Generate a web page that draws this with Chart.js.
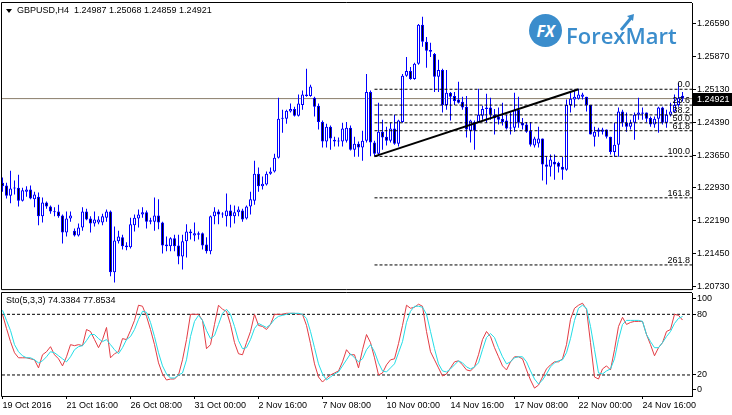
<!DOCTYPE html>
<html>
<head>
<meta charset="utf-8">
<script src="https://cdn.jsdelivr.net/npm/chart.js"></script>
<style>
  html, body { margin: 0; padding: 0; background: #fff; }
  #wrap { position: relative; width: 732px; height: 415px; overflow: hidden; font-family: "Liberation Sans", Arial, sans-serif; }
  #mainBox { position: absolute; left: 0; top: 0; width: 732px; height: 291px; }
  #stoBox { position: absolute; left: 0; top: 291px; width: 732px; height: 124px; }
  .lbl { position: absolute; font-size: 9px; line-height: 11px; color: #000; white-space: pre; }
  .tri { position: absolute; left: 6px; top: 9px; width: 0; height: 0; border-left: 3px solid transparent; border-right: 3px solid transparent; border-top: 4px solid #000; }
  .logo-c { position: absolute; left: 529px; top: 14px; width: 33px; height: 33px; border-radius: 50%; background: #3b8dcc; color: #fff; font: italic bold 16px "Open Sans", sans-serif; display: flex; align-items: center; justify-content: center; }
  .logo-t { position: absolute; left: 566px; top: 20px; font: 600 22px/30px "Open Sans", sans-serif; color: #3b8dcc; }
  .logo-a { position: absolute; left: 618px; top: 12px; }
</style>
</head>
<body>
<div id="wrap">
  <div id="mainBox"><canvas id="mainChart" width="732" height="291"></canvas></div>
  <div id="stoBox"><canvas id="stoChart" width="732" height="124"></canvas></div>
  <div class="tri"></div>
  <div class="lbl" id="head" style="left:17px;top:5px"></div>
  <div class="lbl" id="stoHead" style="left:6px;top:295px"></div>
  <div class="logo-c">FX</div>
  <div class="logo-t">ForexMart</div>
  <svg class="logo-a" width="18" height="20"><path d="M3 18 L13 6" stroke="#3b8dcc" stroke-width="3"/><path d="M9 4 L16 2 L15 9 Z" fill="#3b8dcc"/></svg>
</div>
<script>
/* ── Colours ── */
const BAR_COLOR = "#0000ff";
const BULL_FILL = "#ffffff";
const BEAR_FILL = "#000000";
const K_COLOR = "#e23c44";
const D_COLOR = "#22dde6";
const BID_COLOR = "#8b7d6b";
const FONT = "'Liberation Sans', Arial, sans-serif";

/* ── GBPUSD H4 candles (bar 0 = 19 Oct 2016 00:00) ── */
const OPEN = [
  1.2304, 1.2298, 1.2275, 1.2291, 1.2293, 1.2264, 1.2284, 1.2289, 1.2267, 1.2273,
  1.2229, 1.2260, 1.2251, 1.2240, 1.2240, 1.2231, 1.2193, 1.2224, 1.2197, 1.2186,
  1.2204, 1.2240, 1.2224, 1.2213, 1.2215, 1.2215, 1.2226, 1.2240, 1.2104, 1.2173,
  1.2182, 1.2164, 1.2160, 1.2209, 1.2224, 1.2233, 1.2238, 1.2220, 1.2217, 1.2231,
  1.2215, 1.2166, 1.2162, 1.2180, 1.2164, 1.2139, 1.2173, 1.2195, 1.2186, 1.2191,
  1.2191, 1.2166, 1.2151, 1.2229, 1.2240, 1.2233, 1.2229, 1.2242, 1.2229, 1.2238,
  1.2242, 1.2224, 1.2251, 1.2264, 1.2324, 1.2296, 1.2300, 1.2324, 1.2329, 1.2360,
  1.2447, 1.2447, 1.2463, 1.2469, 1.2454, 1.2478, 1.2498, 1.2498, 1.2494, 1.2476,
  1.2440, 1.2396, 1.2429, 1.2400, 1.2396, 1.2396, 1.2398, 1.2427, 1.2378, 1.2391,
  1.2383, 1.2398, 1.2507, 1.2394, 1.2369, 1.2418, 1.2407, 1.2398, 1.2425, 1.2391,
  1.2440, 1.2543, 1.2554, 1.2536, 1.2570, 1.2657, 1.2619, 1.2601, 1.2592, 1.2541,
  1.2556, 1.2478, 1.2505, 1.2498, 1.2490, 1.2485, 1.2474, 1.2420, 1.2440, 1.2440,
  1.2454, 1.2469, 1.2472, 1.2456, 1.2452, 1.2447, 1.2443, 1.2427, 1.2427, 1.2467,
  1.2438, 1.2434, 1.2420, 1.2387, 1.2392, 1.2403, 1.2345, 1.2340, 1.2351, 1.2349,
  1.2340, 1.2333, 1.2478, 1.2490, 1.2492, 1.2496, 1.2496, 1.2478, 1.2407, 1.2423,
  1.2418, 1.2423, 1.2407, 1.2373, 1.2389, 1.2463, 1.2438, 1.2429, 1.2438, 1.2456,
  1.2461, 1.2461, 1.2449, 1.2434, 1.2447, 1.2472, 1.2438, 1.2456, 1.2463, 1.2478,
  1.24987,
];
const HIGH = [
  1.2316, 1.2304, 1.2331, 1.2309, 1.2322, 1.2293, 1.2296, 1.2298, 1.2284, 1.2282,
  1.2271, 1.2262, 1.2253, 1.2249, 1.2255, 1.2233, 1.2240, 1.2240, 1.2202, 1.2213,
  1.2249, 1.2246, 1.2229, 1.2240, 1.2229, 1.2235, 1.2244, 1.2242, 1.2206, 1.2197,
  1.2188, 1.2171, 1.2226, 1.2233, 1.2244, 1.2249, 1.2242, 1.2226, 1.2271, 1.2267,
  1.2217, 1.2184, 1.2182, 1.2188, 1.2188, 1.2188, 1.2211, 1.2200, 1.2215, 1.2195,
  1.2193, 1.2182, 1.2231, 1.2249, 1.2244, 1.2238, 1.2280, 1.2255, 1.2253, 1.2251,
  1.2246, 1.2253, 1.2284, 1.2353, 1.2338, 1.2318, 1.2329, 1.2338, 1.2369, 1.2494,
  1.2467, 1.2467, 1.2481, 1.2474, 1.2501, 1.2510, 1.2559, 1.2523, 1.2496, 1.2481,
  1.2443, 1.2436, 1.2432, 1.2407, 1.2405, 1.2438, 1.2440, 1.2432, 1.2407, 1.2396,
  1.2420, 1.2547, 1.2510, 1.2398, 1.2483, 1.2445, 1.2429, 1.2438, 1.2456, 1.2445,
  1.2547, 1.2585, 1.2563, 1.2572, 1.2659, 1.2675, 1.2630, 1.2617, 1.2594, 1.2579,
  1.2559, 1.2556, 1.2507, 1.2507, 1.2530, 1.2496, 1.2498, 1.2445, 1.2443, 1.2514,
  1.2476, 1.2503, 1.2494, 1.2469, 1.2472, 1.2483, 1.2456, 1.2461, 1.2505, 1.2496,
  1.2449, 1.2440, 1.2440, 1.2407, 1.2429, 1.2403, 1.2362, 1.2367, 1.2367, 1.2351,
  1.2362, 1.2490, 1.2507, 1.2512, 1.2514, 1.2505, 1.2496, 1.2478, 1.2429, 1.2427,
  1.2427, 1.2423, 1.2407, 1.2438, 1.2472, 1.2467, 1.2461, 1.2445, 1.2461, 1.2494,
  1.2472, 1.2461, 1.2452, 1.2452, 1.2474, 1.2474, 1.2467, 1.2483, 1.2501, 1.2527,
  1.25068,
];
const LOW = [
  1.2284, 1.2269, 1.2258, 1.2278, 1.2251, 1.2262, 1.2273, 1.2267, 1.2249, 1.2209,
  1.2215, 1.2246, 1.2235, 1.2229, 1.2226, 1.2168, 1.2184, 1.2217, 1.2184, 1.2184,
  1.2197, 1.2220, 1.2193, 1.2206, 1.2211, 1.2209, 1.2217, 1.2095, 1.2081, 1.2168,
  1.2155, 1.2153, 1.2157, 1.2195, 1.2204, 1.2226, 1.2202, 1.2211, 1.2197, 1.2200,
  1.2146, 1.2151, 1.2151, 1.2151, 1.2122, 1.2110, 1.2137, 1.2177, 1.2173, 1.2177,
  1.2155, 1.2146, 1.2144, 1.2211, 1.2211, 1.2226, 1.2206, 1.2204, 1.2213, 1.2229,
  1.2217, 1.2222, 1.2233, 1.2255, 1.2284, 1.2289, 1.2298, 1.2322, 1.2327, 1.2358,
  1.2416, 1.2436, 1.2461, 1.2452, 1.2452, 1.2467, 1.2496, 1.2496, 1.2452, 1.2423,
  1.2383, 1.2383, 1.2378, 1.2385, 1.2385, 1.2385, 1.2394, 1.2376, 1.2362, 1.2362,
  1.2353, 1.2394, 1.2363, 1.2363, 1.2363, 1.2378, 1.2387, 1.2394, 1.2389, 1.2385,
  1.2438, 1.2541, 1.2534, 1.2534, 1.2568, 1.2608, 1.2561, 1.2585, 1.2507, 1.2507,
  1.2461, 1.2467, 1.2443, 1.2478, 1.2481, 1.2467, 1.2405, 1.2394, 1.2378, 1.2438,
  1.2445, 1.2438, 1.2445, 1.2412, 1.2434, 1.2432, 1.2423, 1.2412, 1.2418, 1.2427,
  1.2423, 1.2416, 1.2385, 1.2383, 1.2383, 1.2309, 1.2300, 1.2318, 1.2311, 1.2327,
  1.2311, 1.2331, 1.2461, 1.2472, 1.2490, 1.2490, 1.2463, 1.2412, 1.2385, 1.2407,
  1.2412, 1.2403, 1.2367, 1.2362, 1.2362, 1.2429, 1.2418, 1.2423, 1.2400, 1.2445,
  1.2445, 1.2440, 1.2429, 1.2427, 1.2416, 1.2434, 1.2427, 1.2452, 1.2461, 1.2474,
  1.24859,
];
const CLOSE = [
  1.2296, 1.2275, 1.2291, 1.2293, 1.2264, 1.2287, 1.2289, 1.2269, 1.2278, 1.2229,
  1.2260, 1.2251, 1.2240, 1.2238, 1.2229, 1.2193, 1.2224, 1.2231, 1.2186, 1.2204,
  1.2240, 1.2222, 1.2213, 1.2222, 1.2222, 1.2229, 1.2240, 1.2104, 1.2175, 1.2184,
  1.2162, 1.2160, 1.2211, 1.2226, 1.2233, 1.2238, 1.2217, 1.2217, 1.2231, 1.2215,
  1.2164, 1.2162, 1.2180, 1.2162, 1.2139, 1.2173, 1.2195, 1.2191, 1.2191, 1.2188,
  1.2164, 1.2151, 1.2229, 1.2240, 1.2233, 1.2235, 1.2242, 1.2229, 1.2238, 1.2244,
  1.2222, 1.2251, 1.2267, 1.2324, 1.2296, 1.2302, 1.2324, 1.2329, 1.2360, 1.2447,
  1.2449, 1.2465, 1.2469, 1.2454, 1.2481, 1.2501, 1.2501, 1.2519, 1.2474, 1.2440,
  1.2396, 1.2429, 1.2403, 1.2396, 1.2398, 1.2425, 1.2427, 1.2378, 1.2391, 1.2383,
  1.2398, 1.2507, 1.2394, 1.2369, 1.2418, 1.2405, 1.2398, 1.2425, 1.2391, 1.2443,
  1.2543, 1.2554, 1.2536, 1.2570, 1.2657, 1.2619, 1.2599, 1.2597, 1.2541, 1.2556,
  1.2478, 1.2505, 1.2496, 1.2487, 1.2483, 1.2472, 1.2423, 1.2443, 1.2420, 1.2456,
  1.2469, 1.2472, 1.2456, 1.2449, 1.2445, 1.2440, 1.2425, 1.2425, 1.2467, 1.2438,
  1.2432, 1.2418, 1.2389, 1.2403, 1.2403, 1.2345, 1.2340, 1.2356, 1.2345, 1.2340,
  1.2333, 1.2478, 1.2492, 1.2496, 1.2501, 1.2501, 1.2478, 1.2412, 1.2418, 1.2418,
  1.2423, 1.2407, 1.2373, 1.2389, 1.2463, 1.2438, 1.2429, 1.2438, 1.2456, 1.2461,
  1.2458, 1.2447, 1.2434, 1.2447, 1.2472, 1.2438, 1.2456, 1.2463, 1.2478, 1.2494,
  1.24921,
];

/* ── Stochastic (5,3,3) ── */
const STO_K = [
  80, 66, 53, 42, 37, 37, 37, 36, 35, 27, 40, 43, 48, 40, 36, 29, 38, 50, 49, 50,
  49, 65, 63, 55, 47, 55, 67, 37, 41, 43, 56, 55, 64, 74, 89, 88, 78, 65, 50, 32,
  21, 15, 16, 16, 20, 35, 55, 80, 80, 80, 74, 46, 50, 70, 89, 85, 83, 70, 52, 41,
  40, 52, 63, 80, 69, 68, 65, 70, 80, 80, 80, 81, 81, 81, 80, 80, 69, 51, 31, 18,
  13, 17, 20, 22, 24, 33, 45, 40, 40, 27, 45, 60, 52, 37, 20, 22, 30, 35, 36, 51,
  69, 89, 86, 87, 90, 88, 63, 43, 35, 27, 19, 21, 27, 33, 34, 30, 25, 24, 28, 40,
  55, 63, 58, 47, 38, 29, 25, 33, 38, 38, 36, 25, 15, 7, 10, 18, 26, 30, 33, 33,
  36, 50, 75, 86, 89, 91, 85, 52, 18, 16, 26, 29, 25, 45, 68, 77, 70, 72, 73, 73,
  73, 60, 50, 39, 47, 52, 63, 65, 80, 79, 74.3384,
];
const STO_D = [
  84, 74, 64, 50, 43, 39, 37, 37, 35, 32, 34, 38, 43, 42, 39, 36, 33, 38, 45, 48,
  49, 54, 60, 60, 56, 53, 55, 50, 45, 41, 47, 55, 58, 65, 75, 83, 82, 72, 58, 42,
  29, 21, 17, 17, 20, 22, 35, 58, 73, 79, 74, 64, 56, 59, 70, 81, 85, 80, 68, 54,
  46, 47, 55, 66, 71, 69, 67, 70, 75, 78, 79, 80, 81, 81, 81, 80, 76, 63, 47, 31,
  21, 15, 18, 21, 23, 29, 35, 41, 37, 33, 36, 45, 50, 43, 32, 24, 23, 27, 31, 42,
  53, 72, 83, 88, 88, 87, 80, 63, 46, 31, 24, 23, 26, 30, 34, 32, 28, 26, 28, 32,
  45, 57, 61, 57, 47, 38, 31, 33, 37, 38, 38, 33, 24, 16, 11, 15, 21, 28, 32, 34,
  35, 42, 56, 74, 86, 89, 86, 68, 45, 22, 21, 24, 26, 36, 55, 70, 74, 74, 74, 74,
  73, 60, 53, 47, 47, 52, 58, 63, 71, 76, 77.8534,
];
const STO_LEVELS = [20, 80];
const STO_TICK_POS = [6.1, 20, 80, 95.2];
const STO_TICK_TEXT = ["0", "20", "80", "100"];

/* ── Axes ── */
const TIME_TICK_BARS = [0, 16, 32, 48, 64, 80, 96, 112, 128, 144, 160];
const TIME_LABELS = [
  "19 Oct 2016", "21 Oct 16:00", "26 Oct 08:00", "31 Oct 00:00", "2 Nov 16:00",
  "7 Nov 08:00", "10 Nov 00:00", "14 Nov 16:00", "17 Nov 08:00", "22 Nov 00:00", "24 Nov 16:00",
];
const PRICE_TICKS = [1.2073, 1.2145, 1.2219, 1.2293, 1.2365, 1.2439, 1.2513, 1.2587, 1.2659];
const X_MIN = -0.125;
const X_MAX = 172.375;
const PRICE_MIN = 1.20663;
const PRICE_MAX = 1.27058;

/* ── Fibonacci retracement ── */
const FIB_LOW = 1.2363;
const FIB_HIGH = 1.2513;
const FIB_FROM_BAR = 93;
const FIB_TO_BAR = 144;
const FIB_RATIOS = [0, 0.236, 0.382, 0.5, 0.618, 1, 1.618, 2.618];
const FIB_NAMES = ["0.0", "23.6", "38.2", "50.0", "61.8", "100.0", "161.8", "261.8"];

const LAST = CLOSE[CLOSE.length - 1];
const last = CLOSE.length - 1;
document.getElementById("head").textContent =
  `GBPUSD,H4  ${OPEN[last].toFixed(5)} ${HIGH[last].toFixed(5)} ${LOW[last].toFixed(5)} ${CLOSE[last].toFixed(5)}`;
document.getElementById("stoHead").textContent =
  `Sto(5,3,3) ${STO_K[last].toFixed(4)} ${STO_D[last].toFixed(4)}`;

Chart.defaults.font.family = FONT;
Chart.defaults.font.size = 9;
Chart.defaults.color = "#000";

const fibPrices = FIB_RATIOS.map((r) => FIB_HIGH - (FIB_HIGH - FIB_LOW) * r);

/* frame around the plot area */
const framePlugin = {
  id: "frame",
  afterDraw(chart) {
    const { ctx, chartArea: a } = chart;
    ctx.save();
    ctx.strokeStyle = "#000";
    ctx.lineWidth = 1;
    ctx.beginPath();
    ctx.moveTo(a.left - 0.5, a.bottom + 0.5);
    ctx.lineTo(a.left - 0.5, a.top - 0.5);
    ctx.lineTo(a.right, a.top - 0.5);
    ctx.moveTo(a.left - 0.5, a.bottom + 0.5);
    ctx.lineTo(a.right, a.bottom + 0.5);
    ctx.stroke();
    ctx.restore();
  },
};

/* fib level captions + bid price box */
const mainPlugin = {
  id: "mainExtras",
  afterDraw(chart) {
    const { ctx, chartArea: a } = chart;
    const y = chart.scales.y;
    ctx.save();
    ctx.font = `9px ${FONT}`;
    ctx.fillStyle = "#000";
    ctx.textAlign = "right";
    ctx.textBaseline = "alphabetic";
    fibPrices.forEach((p, i) => {
      ctx.fillText(FIB_NAMES[i], a.right - 2, y.getPixelForValue(p) - 2);
    });
    const py = y.getPixelForValue(LAST);
    ctx.fillStyle = "#000";
    ctx.fillRect(a.right, Math.round(py) - 6, 40, 13);
    ctx.fillStyle = "#fff";
    ctx.textAlign = "left";
    ctx.textBaseline = "middle";
    ctx.fillText(LAST.toFixed(5), a.right + 5, Math.round(py) + 0.5);
    ctx.restore();
  },
};

/* ── Main price chart ── */
const wickData = HIGH.map((h, i) => ({ x: i, y: [LOW[i], h] }));
const bodyData = OPEN.map((o, i) => ({ x: i, y: [o, CLOSE[i]] }));
const bodyFill = OPEN.map((o, i) => (CLOSE[i] >= o ? BULL_FILL : BEAR_FILL));

const fibSets = fibPrices.map((p) => ({
  type: "line",
  data: [{ x: FIB_FROM_BAR, y: p }, { x: X_MAX, y: p }],
  borderColor: "#000",
  borderWidth: 1,
  borderDash: [3, 2],
  pointRadius: 0,
  order: 1,
}));

new Chart(document.getElementById("mainChart"), {
  type: "bar",
  data: {
    datasets: [
      {
        type: "line",
        data: [{ x: FIB_FROM_BAR, y: FIB_LOW }, { x: FIB_TO_BAR, y: FIB_HIGH }],
        borderColor: "#000",
        borderWidth: 2,
        pointRadius: 0,
        order: 0,
      },
      ...fibSets,
      {
        data: bodyData,
        backgroundColor: bodyFill,
        borderColor: BAR_COLOR,
        borderWidth: 1,
        borderSkipped: false,
        barThickness: 3,
        minBarLength: 1,
        inflateAmount: 0,
        grouped: false,
        order: 2,
      },
      {
        data: wickData,
        backgroundColor: BAR_COLOR,
        borderWidth: 0,
        barThickness: 1,
        inflateAmount: 0,
        grouped: false,
        order: 3,
      },
      {
        type: "line",
        data: [{ x: X_MIN, y: LAST }, { x: X_MAX, y: LAST }],
        borderColor: BID_COLOR,
        borderWidth: 1,
        pointRadius: 0,
        order: 4,
      },
    ],
  },
  options: {
    responsive: false,
    animation: false,
    layout: { padding: { left: 2, top: 3, bottom: 1, right: 0 } },
    plugins: { legend: { display: false }, tooltip: { enabled: false } },
    scales: {
      x: { type: "linear", min: X_MIN, max: X_MAX, offset: false, display: false },
      y: {
        position: "right",
        min: PRICE_MIN,
        max: PRICE_MAX,
        afterBuildTicks: (s) => { s.ticks = PRICE_TICKS.map((v) => ({ value: v })); },
        afterFit: (s) => { s.width = 40; },
        ticks: {
          autoSkip: false,
          padding: 1,
          color: "#000",
          font: { size: 9, lineHeight: 0.2 },
          callback: (v) => Number(v).toFixed(5),
        },
        grid: { drawOnChartArea: false, drawTicks: true, tickLength: 4, color: "#000" },
        border: { display: true, color: "#000" },
      },
    },
  },
  plugins: [framePlugin, mainPlugin],
});

/* ── Stochastic panel ── */
const idx = STO_K.map((_, i) => i);
const levelSets = STO_LEVELS.map((v) => ({
  data: [{ x: X_MIN, y: v }, { x: X_MAX, y: v }],
  borderColor: "#000",
  borderWidth: 1,
  borderDash: [3, 2],
  pointRadius: 0,
}));

new Chart(document.getElementById("stoChart"), {
  type: "line",
  data: {
    datasets: [
      {
        data: idx.map((i) => ({ x: i, y: STO_D[i] })),
        borderColor: D_COLOR,
        borderWidth: 1,
        pointRadius: 0,
      },
      {
        data: idx.map((i) => ({ x: i, y: STO_K[i] })),
        borderColor: K_COLOR,
        borderWidth: 1,
        pointRadius: 0,
      },
      ...levelSets,
    ],
  },
  options: {
    responsive: false,
    animation: false,
    layout: { padding: { left: 2, top: 2, bottom: 0, right: 0 } },
    plugins: { legend: { display: false }, tooltip: { enabled: false } },
    scales: {
      x: {
        type: "linear",
        min: X_MIN,
        max: X_MAX,
        afterBuildTicks: (s) => { s.ticks = TIME_TICK_BARS.map((v) => ({ value: v })); },
        afterFit: (s) => { s.height = 19; },
        ticks: {
          autoSkip: false,
          maxRotation: 0,
          align: "start",
          padding: 1,
          color: "#000",
          font: { size: 9 },
          callback: (v) => TIME_LABELS[TIME_TICK_BARS.indexOf(v)],
        },
        grid: { drawOnChartArea: false, drawTicks: true, tickLength: 3, color: "#000" },
        border: { display: true, color: "#000" },
      },
      y: {
        position: "right",
        min: -0.8,
        max: 101.1,
        afterBuildTicks: (s) => { s.ticks = STO_TICK_POS.map((v) => ({ value: v })); },
        afterFit: (s) => { s.width = 40; },
        ticks: {
          autoSkip: false,
          padding: 1,
          color: "#000",
          font: { size: 9, lineHeight: 0.2 },
          callback: (v, i) => STO_TICK_TEXT[i],
        },
        grid: { drawOnChartArea: false, drawTicks: true, tickLength: 4, color: "#000" },
        border: { display: true, color: "#000" },
      },
    },
  },
  plugins: [framePlugin],
});
</script>
</body>
</html>
